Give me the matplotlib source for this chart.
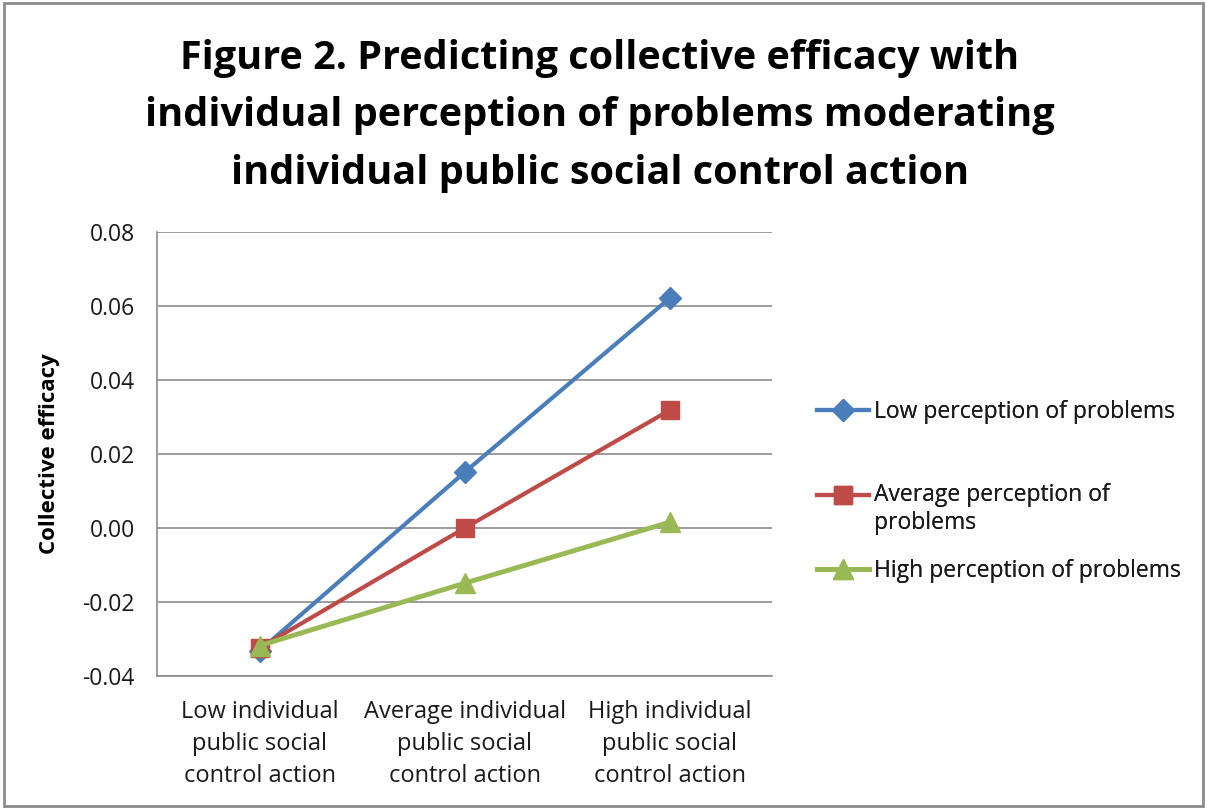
import matplotlib.pyplot as plt
from matplotlib.patches import Rectangle
from matplotlib.legend_handler import HandlerLine2D

categories = ["Low individual\npublic social\ncontrol action",
              "Average individual\npublic social\ncontrol action",
              "High individual\npublic social\ncontrol action"]
low_perception = [-0.0332, 0.0151, 0.0622]
avg_perception = [-0.0324, 0.0000, 0.0319]
high_perception = [-0.0318, -0.0149, 0.0016]
series_labels = ["Low perception of problems",
                 "Average perception of\nproblems",
                 "High perception of problems"]
y_ticks = [-0.04, -0.02, 0.00, 0.02, 0.04, 0.06, 0.08]

plt.rcParams['font.family'] = ['Open Sans', 'DejaVu Sans']


# legend handle aligned with first text line (like Excel does)
class TopLineHandler(HandlerLine2D):
    def create_artists(self, legend, orig_handle, xdescent, ydescent, width, height, fontsize, trans):
        return super().create_artists(legend, orig_handle, xdescent, ydescent - 1.3 * fontsize,
                                      width, height, fontsize, trans)


fig = plt.figure(figsize=(12.07, 8.09), dpi=100)
fig.patches.append(Rectangle((0.003, 0.004), 0.994, 0.992, transform=fig.transFigure,
                             fill=False, edgecolor='#8c8c8c', linewidth=2))
ax = fig.add_axes([0.130, 0.1644, 0.510, 0.5486])

x = range(len(categories))
l1, = ax.plot(x, low_perception, color='#4a7ebb', lw=3, marker='D', ms=11, label=series_labels[0], zorder=3)
l2, = ax.plot(x, avg_perception, color='#be4b48', lw=3, marker='s', ms=13, label=series_labels[1], zorder=3)
l3, = ax.plot(x, high_perception, color='#98b954', lw=3.5, marker='^', ms=14, label=series_labels[2], zorder=3)

ax.set_xlim(-0.5, 2.5)
ax.set_ylim(-0.04, 0.08)
ax.set_yticks(y_ticks)
ax.set_yticklabels(["%.2f" % v for v in y_ticks])
ax.set_xticks(list(x))
ax.set_xticklabels(categories, linespacing=1.45)
ax.tick_params(length=0, labelsize=16.5, colors='#1a1a1a')
ax.tick_params(axis='x', labelsize=17, pad=17)
ax.tick_params(axis='y', pad=16)
ax.yaxis.grid(True, color='#8c8c8c', lw=1.2)
ax.set_axisbelow(True)
for s in ['top', 'right']:
    ax.spines[s].set_visible(False)
for s in ['left', 'bottom']:
    ax.spines[s].set_color('#8c8c8c')
    ax.spines[s].set_linewidth(1.2)

ax.set_ylabel("Collective efficacy", fontsize=16, fontweight='bold', labelpad=16)

fig.text(0.497, 0.857,
         "Figure 2. Predicting collective efficacy with\nindividual perception of problems moderating\nindividual public social control action",
         ha='center', va='center', fontsize=28.5, fontweight='bold', linespacing=1.62)

legend_y = [1 - 412 / 809, 1 - 509 / 809, 1 - 571 / 809]
for line, ly in zip([l1, l2, l3], legend_y):
    leg = fig.legend(handles=[line], loc='center left', bbox_to_anchor=(0.667, ly), frameon=False,
                     fontsize=16.5, handlelength=2.3, handletextpad=0.2, borderpad=0,
                     labelspacing=0, handler_map={l2: TopLineHandler()})
    for t in leg.get_texts():
        t.set_color('#1a1a1a')
    fig.add_artist(leg)

fig.savefig("out.png", dpi=100)
